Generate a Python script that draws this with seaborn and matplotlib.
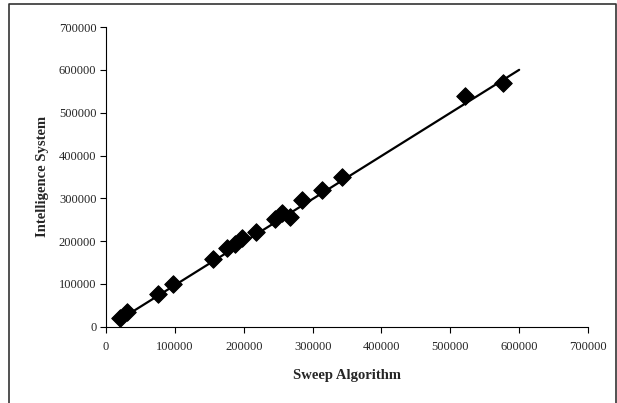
import numpy as np
import pandas as pd
import matplotlib
matplotlib.use("Agg")
import matplotlib.pyplot as plt
import seaborn as sns

# values
sweep = [20000, 30000, 75000, 97000, 155000, 176000, 187000, 197000, 217000,
         245000, 256000, 267000, 284000, 314000, 342000, 521000, 576000]
intel = [20000, 35000, 76000, 100000, 158000, 183000, 194000, 207000, 221000,
         252000, 266000, 256000, 295000, 320000, 350000, 538000, 570000]
trend_x = [20000, 600000]
trend_y = [17000, 600000]
ticks = [0, 100000, 200000, 300000, 400000, 500000, 600000, 700000]

df = pd.DataFrame({"Sweep Algorithm": sweep, "Intelligence System": intel})

sns.set_style("ticks")
plt.rcParams['font.family'] = ['Liberation Serif', 'DejaVu Serif']

fig = plt.figure(figsize=(6.17, 4.03), dpi=100)
ax = fig.add_axes([0.172, 0.189, 0.781, 0.744])

# trend line
sns.lineplot(x=trend_x, y=trend_y, ax=ax, color='black', linewidth=1.6, zorder=2)

sns.scatterplot(data=df, x="Sweep Algorithm", y="Intelligence System", ax=ax,
                marker='D', s=80, color='black', edgecolor='black', zorder=3)

ax.set_xlim(0, 700000)
ax.set_ylim(0, 700000)
ax.set_xticks(ticks)
ax.set_yticks(ticks)
ax.set_xticklabels([str(t) for t in ticks], fontsize=9)
ax.set_yticklabels([str(t) for t in ticks], fontsize=9)
ax.tick_params(direction='out', length=4, width=0.8, color='black')
ax.tick_params(axis='x', pad=6)
ax.tick_params(axis='y', pad=3)
for s in ['left', 'bottom']:
    ax.spines[s].set_linewidth(0.8)
    ax.spines[s].set_color('black')
sns.despine(ax=ax)

ax.set_xlabel("Sweep Algorithm", fontsize=10.5, fontweight='bold', labelpad=12)
ax.set_ylabel("Intelligence System", fontsize=10.5, fontweight='bold', labelpad=7)

# frame around the figure (left, top, right)
fig.add_artist(plt.Line2D([0.014, 0.014, 0.998, 0.998], [0.0, 0.991, 0.991, 0.0],
                          transform=fig.transFigure, color='#333333', linewidth=1.2))

fig.savefig("out.png", dpi=100)
